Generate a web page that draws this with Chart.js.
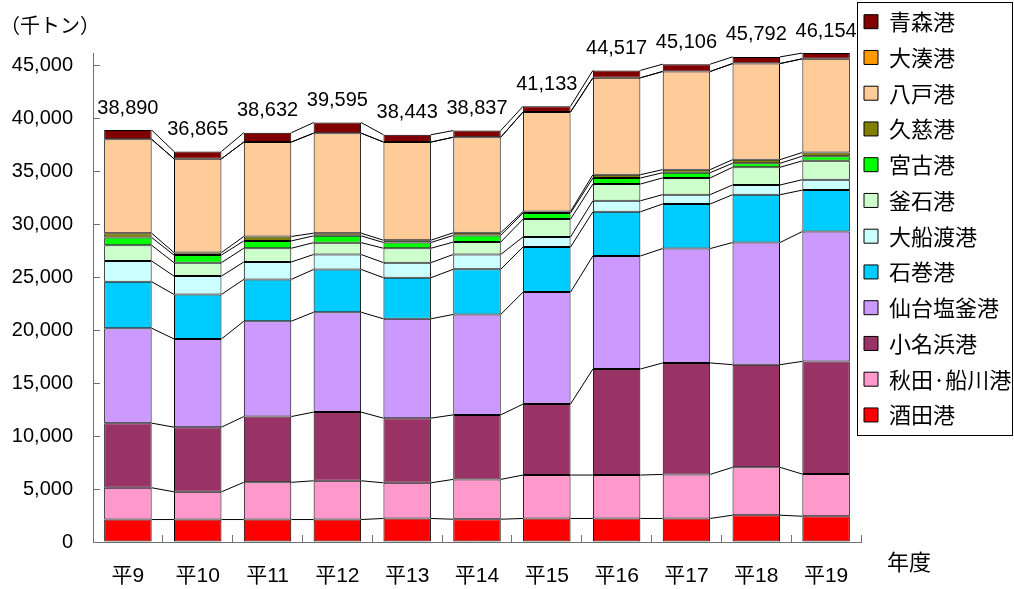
<!DOCTYPE html>
<html><head><meta charset="utf-8">
<script src="https://cdn.jsdelivr.net/npm/chart.js@4.4.1/dist/chart.umd.min.js"></script>
<style>html,body{margin:0;padding:0;background:#fff;}#wrap{width:1014px;height:589px;}</style>
</head><body><div id="wrap"><canvas id="c" width="1014" height="589"></canvas></div>
<script>
// ---- data ----
const categories = ['平9','平10','平11','平12','平13','平14','平15','平16','平17','平18','平19'];
const totals     = [38890,36865,38632,39595,38443,38837,41133,44517,45106,45792,46154];
const sakata     = [2120,2120,2120,2120,2220,2150,2220,2220,2220,2530,2430];
const akitaFunakawa = [3000,2620,3510,3660,3370,3760,4100,4100,4160,4520,3980];
const onahama    = [6100,6100,6210,6480,6100,6090,6700,10010,10520,9690,10640];
const sendaiShiogama = [8960,8330,9000,9430,9380,9480,10570,10670,10800,11530,12260];
const ishinomaki = [4390,4200,3950,4040,3880,4260,4260,4170,4210,4510,3910];
const ofunato    = [1960,1730,1640,1410,1420,1400,950,1040,880,920,980];
const kamaishi   = [1480,1270,1300,1120,1360,1170,1680,1580,1580,1670,1780];
const miyako     = [730,720,690,640,540,630,580,570,490,380,440];
const kuji       = [410,230,420,250,220,250,140,310,290,340,350];
const hachinohe  = [8860,8855,8912,9445,9263,9017,9393,9147,9266,9072,8844];
const ominato    = [0,0,0,0,0,0,0,0,0,0,0];
const aomori     = [880,690,880,1000,690,630,540,700,690,630,540];
const yTickValues = [0,5000,10000,15000,20000,25000,30000,35000,40000,45000];
const unitLabel = '（千トン）';
const xAxisLabel = '年度';

const seriesDefs = [
  ['酒田港', sakata, '#FF0000'],
  ['秋田·船川港', akitaFunakawa, '#FF99CC'],
  ['小名浜港', onahama, '#993366'],
  ['仙台塩釜港', sendaiShiogama, '#CC99FF'],
  ['石巻港', ishinomaki, '#00CCFF'],
  ['大船渡港', ofunato, '#CCFFFF'],
  ['釜石港', kamaishi, '#CCFFCC'],
  ['宮古港', miyako, '#00FF00'],
  ['久慈港', kuji, '#808000'],
  ['八戸港', hachinohe, '#FFCC99'],
  ['大湊港', ominato, '#FF9900'],
  ['青森港', aomori, '#800000']
];

const FONT = "'Liberation Sans', 'Noto Sans CJK JP', sans-serif";
const CJK = "'Noto Sans CJK JP', 'Liberation Sans', sans-serif";
Chart.defaults.font.family = FONT;
Chart.defaults.color = '#000';
const AXIS = '#707070';
const LEG_PAD = 13.75, LEG_FONT = 22;

const legendPlace = {
  id: 'legendPlace',
  afterLayout(chart) {
    const lg = chart.legend;
    lg.left = 864 - LEG_PAD;
    lg.top = 21.7 - LEG_PAD - LEG_FONT / 2;
  },
  afterDraw(chart) {
    const ctx = chart.ctx, lg = chart.legend;
    const first = lg.top + LEG_PAD + LEG_FONT / 2;
    const last = first + (seriesDefs.length - 1) * (LEG_FONT + LEG_PAD);
    ctx.save();
    ctx.strokeStyle = '#000'; ctx.lineWidth = 1;
    const x0 = Math.round(lg.left + LEG_PAD - 7.5) + 0.5;
    const y0 = Math.round(first - 20) + 0.5;
    const y1 = Math.round(last + 20) + 0.5;
    ctx.strokeRect(x0, y0, chart.width - 1.5 - x0, y1 - y0);
    ctx.restore();
  }
};

const seriesLines = {
  id: 'seriesLines',
  afterDatasetsDraw(chart) {
    const ctx = chart.ctx;
    ctx.save();
    ctx.strokeStyle = '#000'; ctx.lineWidth = 1;
    chart.data.datasets.forEach((ds, d) => {
      const meta = chart.getDatasetMeta(d);
      for (let i = 0; i < meta.data.length - 1; i++) {
        const a = meta.data[i].getProps(['x','y','width'], true);
        const b = meta.data[i+1].getProps(['x','y','width'], true);
        ctx.beginPath();
        ctx.moveTo(a.x + a.width / 2, a.y);
        ctx.lineTo(b.x - b.width / 2, b.y);
        ctx.stroke();
      }
    });
    // totals
    const xs = chart.scales.x, ys = chart.scales.y;
    ctx.fillStyle = '#000';
    ctx.font = '20px ' + FONT;
    ctx.textAlign = 'center'; ctx.textBaseline = 'middle';
    totals.forEach((t, i) => {
      ctx.fillText(t.toLocaleString('en-US'), xs.getPixelForValue(i), ys.getPixelForValue(t) - 22);
    });
    ctx.font = '22px ' + CJK;
    ctx.fillText(xAxisLabel, chart.chartArea.right + 48, chart.chartArea.bottom + 20);
    ctx.restore();
  }
};

new Chart(document.getElementById('c'), {
  type: 'bar',
  data: {
    labels: categories,
    datasets: seriesDefs.map(([label, data, color]) => ({
      label, data,
      backgroundColor: color,
      borderColor: '#000',
      borderWidth: {top: 1, left: 1, right: 1, bottom: 1},
      borderSkipped: false,
      barPercentage: 0.68,
      categoryPercentage: 1.0
    }))
  },
  options: {
    responsive: false,
    animation: false,
    layout: {padding: 0},
    plugins: {
      title: {
        display: true, text: unitLabel, align: 'start', color: '#000',
        font: {size: 20, weight: 'normal', family: CJK},
        padding: {top: 13, bottom: 16}
      },
      legend: {
        position: 'right', align: 'start', reverse: true, maxWidth: 153,
        labels: {boxWidth: 14, boxHeight: 14, padding: LEG_PAD, color: '#000',
                 font: {size: LEG_FONT, family: CJK}}
      },
      tooltip: {enabled: false}
    },
    scales: {
      x: {
        stacked: true,
        grid: {display: true, drawOnChartArea: false, drawTicks: true, tickLength: -7, color: AXIS, offset: true},
        border: {display: true, color: AXIS, width: 1},
        ticks: {padding: 29, font: {size: 21}, color: '#000', maxRotation: 0},
        afterFit: s => { s.height = 47; }
      },
      y: {
        stacked: true, min: 0, max: 46160,
        grid: {display: true, drawOnChartArea: false, drawTicks: true, tickLength: -7, color: AXIS},
        border: {display: true, color: AXIS, width: 1},
        ticks: {padding: 27, font: {size: 20}, color: '#000',
                callback: v => Number(v).toLocaleString('en-US')},
        afterBuildTicks: s => { s.ticks = yTickValues.map(v => ({value: v})); },
        afterFit: s => { s.width = 93; }
      }
    }
  },
  plugins: [legendPlace, seriesLines]
});
</script></body></html>
